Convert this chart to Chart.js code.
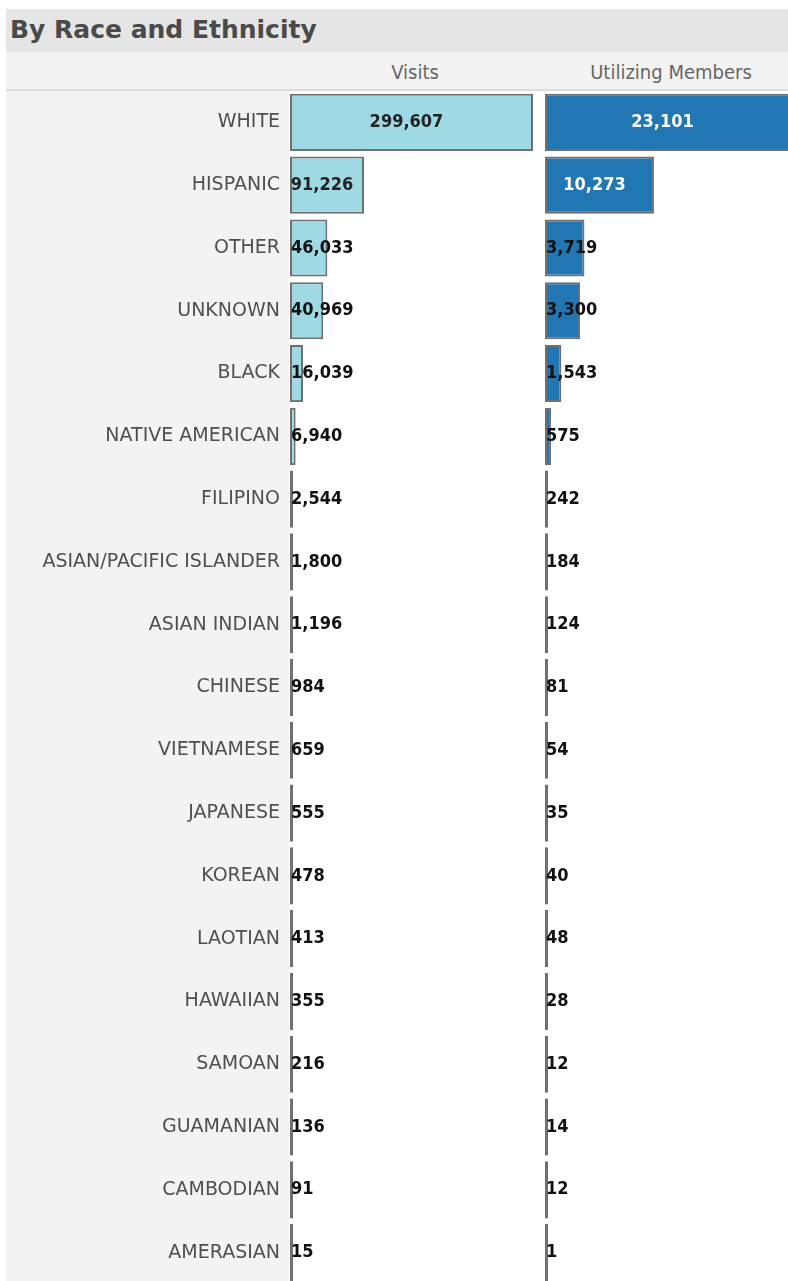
<!DOCTYPE html>
<html>
<head>
<meta charset="utf-8">
<script src="https://cdn.jsdelivr.net/npm/chart.js@4"></script>
<style>
  html, body { margin: 0; padding: 0; background: #fff; }
  body { width: 788px; height: 1281px; overflow: hidden; position: relative; font-family: "DejaVu Sans", sans-serif; }
  #titlebar { position: absolute; left: 6px; top: 9px; width: 800px; height: 43px; background: #e5e5e5; }
  #titlebar span { position: absolute; left: 4px; top: 6px; font-size: 25px; font-weight: bold; color: #4a4a4a; }
  #colhead { position: absolute; left: 6px; top: 52px; width: 800px; height: 37px; background: #f3f3f3; border-bottom: 2px solid #dcdcdc; }
  .hd { position: absolute; top: 8px; font-family: "DejaVu Sans Condensed", "DejaVu Sans", sans-serif; font-size: 20px; color: #666; text-align: center; }
  #labelcol { position: absolute; left: 6px; top: 91px; width: 283px; height: 1200px; background: #f3f3f3; }
  canvas { position: absolute; top: 91px; }
  #visits { left: 0; }
  #members { left: 545px; }
</style>
</head>
<body>
<div id="titlebar"><span>By Race and Ethnicity</span></div>
<div id="colhead">
  <div class="hd" style="left:284px;width:250px;">Visits</div>
  <div class="hd" style="left:540px;width:250px;">Utilizing Members</div>
</div>
<div id="labelcol"></div>
<canvas id="visits" width="540" height="1193"></canvas>
<canvas id="members" width="250" height="1193"></canvas>
<script>
const groups = ['WHITE', 'HISPANIC', 'OTHER', 'UNKNOWN', 'BLACK', 'NATIVE AMERICAN', 'FILIPINO',
  'ASIAN/PACIFIC ISLANDER', 'ASIAN INDIAN', 'CHINESE', 'VIETNAMESE', 'JAPANESE', 'KOREAN',
  'LAOTIAN', 'HAWAIIAN', 'SAMOAN', 'GUAMANIAN', 'CAMBODIAN', 'AMERASIAN']
const visits = [299607, 91226, 46033, 40969, 16039, 6940, 2544, 1800, 1196, 984, 659, 555, 478, 413, 355, 216, 136, 91, 15]
const members = [23101, 10273, 3719, 3300, 1543, 575, 242, 184, 124, 81, 54, 35, 40, 48, 28, 12, 14, 12, 1]

const fmt = v => v.toLocaleString('en-US')

// writes each bar's value: centred when it fits inside the bar, otherwise from the bar's base
const valueLabels = {
  id: 'valueLabels',
  afterDatasetsDraw(chart, args, opts) {
    const ctx = chart.ctx
    const ds = chart.data.datasets[0]
    ctx.save()
    ctx.font = 'bold 18px "DejaVu Sans Condensed", "DejaVu Sans", sans-serif'
    ctx.textBaseline = 'middle'
    chart.getDatasetMeta(0).data.forEach((bar, i) => {
      const txt = fmt(ds.data[i])
      const w = ctx.measureText(txt).width
      const barW = bar.x - bar.base
      if (w + 6 < barW) {
        ctx.textAlign = 'center'
        ctx.fillStyle = opts.inside
        ctx.fillText(txt, (bar.x + bar.base) / 2 - 5, bar.y)
      } else {
        ctx.textAlign = 'left'
        ctx.fillStyle = '#111'
        ctx.fillText(txt, bar.base + 1, bar.y)
      }
    })
    ctx.restore()
  }
}

function makeChart(id, values, max, fill, inside, labelWidth) {
  return new Chart(document.getElementById(id), {
    type: 'bar',
    data: {
      labels: groups,
      datasets: [{
        data: values,
        backgroundColor: fill,
        borderColor: '#707070',
        borderWidth: 2,
        borderSkipped: false,
        minBarLength: 3,
        categoryPercentage: 1,
        barPercentage: 0.91
      }]
    },
    options: {
      indexAxis: 'y',
      responsive: false,
      animation: false,
      layout: { padding: 0 },
      plugins: {
        legend: { display: false },
        tooltip: { enabled: false },
        valueLabels: { inside: inside }
      },
      scales: {
        x: { display: false, min: 0, max: max },
        y: {
          display: labelWidth > 0,
          grid: { display: false, drawTicks: false },
          border: { display: false },
          ticks: {
            padding: 10,
            color: '#4f4f4f',
            font: { family: '"DejaVu Sans", sans-serif', size: 19 }
          },
          // fixed label column, and no extra room above/below the first and last rows
          afterFit: s => { s.width = labelWidth; s.paddingTop = 0; s.paddingBottom = 0 }
        }
      }
    },
    plugins: [valueLabels]
  })
}

makeChart('visits', visits, 308238, '#9fd9e4', '#222', 290)
makeChart('members', members, 23572, '#2176b4', '#fff', 0)
</script>
</body>
</html>
